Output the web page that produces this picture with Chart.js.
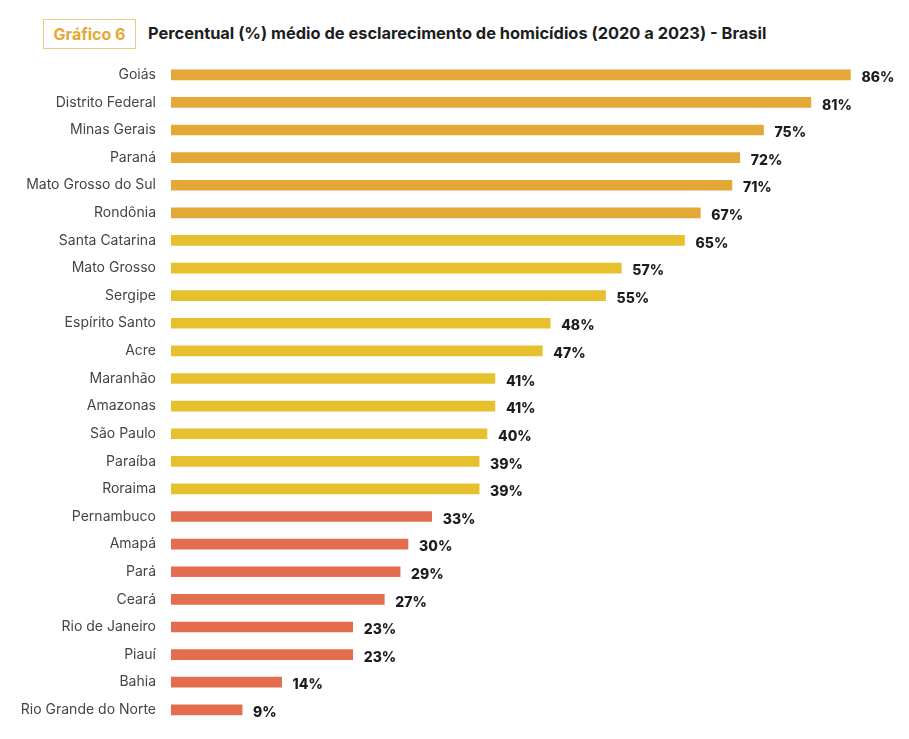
<!DOCTYPE html>
<html>
<head>
<meta charset="utf-8">
<script src="https://cdn.jsdelivr.net/npm/chart.js@4"></script>
<style>
  body { margin: 0; background: #fff; font-family: Inter, "Noto Sans", sans-serif; }
  #wrap { position: relative; width: 909px; height: 739px; }
  #tag {
    position: absolute; left: 43px; top: 19px; width: 91px; height: 28px;
    border: 1.5px solid #ebcb80; color: #e3a835; font-weight: 700; font-size: 16px;
    display: flex; align-items: center; justify-content: center;
  }
  #title {
    position: absolute; left: 148px; top: 23px; font-weight: 700; font-size: 16.4px; color: #1d1d1d;
  }
  canvas { position: absolute; left: 0; top: 0; }
</style>
</head>
<body>
<div id="wrap">
  <div id="tag">Gráfico 6</div>
  <div id="title">Percentual (%) médio de esclarecimento de homicídios (2020 a 2023) - Brasil</div>
  <canvas id="chart" width="909" height="739"></canvas>
</div>
<script>
// states and their average clearance rate (%)
const states = [
  "Goiás", "Distrito Federal", "Minas Gerais", "Paraná", "Mato Grosso do Sul",
  "Rondônia", "Santa Catarina", "Mato Grosso", "Sergipe", "Espírito Santo",
  "Acre", "Maranhão", "Amazonas", "São Paulo", "Paraíba", "Roraima",
  "Pernambuco", "Amapá", "Pará", "Ceará", "Rio de Janeiro", "Piauí",
  "Bahia", "Rio Grande do Norte"
];
const rates = [86, 81, 75, 72, 71, 67, 65, 57, 55, 48, 47, 41, 41, 40, 39, 39, 33, 30, 29, 27, 23, 23, 14, 9];
// colour group of each state (0 = high, 1 = middle, 2 = low)
const tiers = [0, 0, 0, 0, 0, 0, 1, 1, 1, 1, 1, 1, 1, 1, 1, 1, 2, 2, 2, 2, 2, 2, 2, 2];

const tierColors = ["#e3a835", "#e6c12d", "#e46c4f"];

// draws the "86%" labels at the end of each bar
const valueLabels = {
  id: "valueLabels",
  afterDatasetsDraw(chart) {
    const ctx = chart.ctx;
    const meta = chart.getDatasetMeta(0);
    ctx.save();
    ctx.font = "800 14px Inter, 'Noto Sans', sans-serif";
    ctx.fillStyle = "#1d1d1d";
    ctx.textBaseline = "middle";
    meta.data.forEach((bar, i) => {
      ctx.fillText(rates[i] + "%", bar.x + 11, bar.y + 3);
    });
    ctx.restore();
  },
};

const ctx = document.getElementById("chart").getContext("2d");
const chart = new Chart(ctx, {
  type: "bar",
  data: {
    labels: states,
    datasets: [
      {
        data: rates,
        backgroundColor: tiers.map((t) => tierColors[t]),
        barThickness: 10,
      },
    ],
  },
  options: {
    indexAxis: "y",
    responsive: false,
    animation: false,
    layout: { padding: { top: 61, bottom: 11, right: 27, left: 0 } },
    plugins: { legend: { display: false }, tooltip: { enabled: false } },
    scales: {
      x: { display: false, min: 0, max: 90 },
      y: {
        grid: { display: false },
        border: { display: false },
        ticks: {
          padding: 7,
          color: "#454545",
          font: { family: "Inter, 'Noto Sans', sans-serif", size: 14 },
        },
        afterFit(scale) {
          scale.width = 171;
        },
      },
    },
  },
  plugins: [valueLabels],
});
</script>
</body>
</html>
